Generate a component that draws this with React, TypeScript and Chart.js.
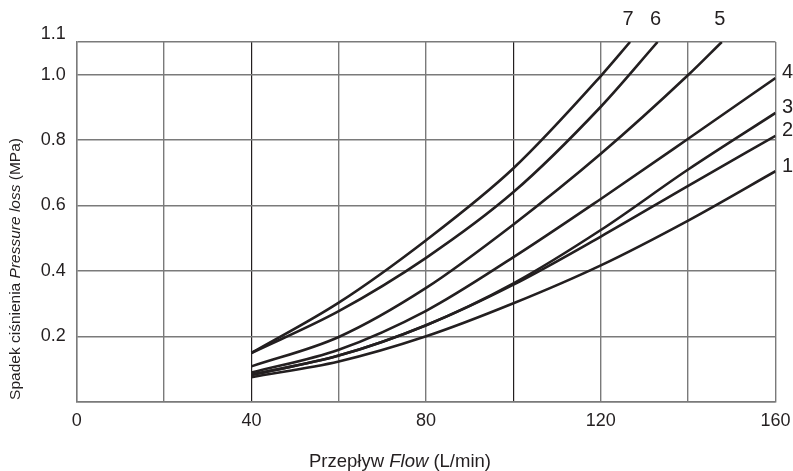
import React, { useEffect, useRef } from "react";
import { Chart, registerables } from "chart.js";

Chart.register(...registerables);

// Flow (L/min) and pressure loss (MPa) for each curve
const curveNames = ["1", "2", "3", "4", "5", "6", "7"];
const flow1 = [40, 60, 80, 100, 120, 140, 160];
const loss1 = [0.075, 0.123, 0.2, 0.301, 0.417, 0.554, 0.705];
const flow2 = [40, 60, 80, 100, 120, 140, 160];
const loss2 = [0.082, 0.141, 0.234, 0.358, 0.505, 0.66, 0.813];
const flow3 = [40, 60, 80, 100, 120, 140, 160];
const loss3 = [0.082, 0.141, 0.234, 0.362, 0.525, 0.71, 0.883];
const flow4 = [40, 60, 80, 100, 120, 140, 160];
const loss4 = [0.089, 0.159, 0.278, 0.442, 0.62, 0.804, 0.99];
const flow5 = [40, 60, 80, 100, 120, 140, 147.7];
const loss5 = [0.108, 0.198, 0.348, 0.542, 0.758, 0.999, 1.1];
const flow6 = [40, 60, 80, 100, 120, 133];
const loss6 = [0.149, 0.277, 0.44, 0.641, 0.902, 1.1];
const flow7 = [40, 60, 80, 100, 120, 126.7];
const loss7 = [0.149, 0.303, 0.494, 0.714, 0.996, 1.1];

const flows = [flow1, flow2, flow3, flow4, flow5, flow6, flow7];
const losses = [loss1, loss2, loss3, loss4, loss5, loss6, loss7];

const xTicks = [0, 20, 40, 60, 80, 100, 120, 140, 160];
const xLabelTicks = [0, 40, 80, 120, 160];
const darkXGrid = [40, 100];
const yTicks = [0, 0.2, 0.4, 0.6, 0.8, 1.0, 1.1];
const yTopLabel = "1.1";

const yTitleParts = [
  { text: "Spadek ciśnienia ", italic: false },
  { text: "Pressure loss", italic: true },
  { text: " (MPa)", italic: false },
];
const xTitleParts = [
  { text: "Przepływ ", italic: false },
  { text: "Flow", italic: true },
  { text: " (L/min)", italic: false },
];

const FONT = '"Liberation Sans", Arial, sans-serif';
const INK = "#231f20";
const GRID = "#7a7a7a";

function drawParts(ctx: CanvasRenderingContext2D, parts: { text: string; italic: boolean }[], size: number) {
  const widths = parts.map((p) => {
    ctx.font = `${p.italic ? "italic " : ""}${size}px ${FONT}`;
    return ctx.measureText(p.text).width;
  });
  const total = widths.reduce((a, b) => a + b, 0);
  let x = -total / 2;
  parts.forEach((p, i) => {
    ctx.font = `${p.italic ? "italic " : ""}${size}px ${FONT}`;
    ctx.fillText(p.text, x, 0);
    x += widths[i];
  });
}

const annotations = {
  id: "annotations",
  afterDraw(chart: any) {
    const ctx = chart.ctx as CanvasRenderingContext2D;
    const area = chart.chartArea;
    const yScale = chart.scales.y;
    ctx.save();
    ctx.fillStyle = INK;
    ctx.textBaseline = "middle";
    ctx.textAlign = "left";

    // Y title (rotated)
    ctx.save();
    ctx.translate(16, 269);
    ctx.rotate(-Math.PI / 2);
    drawParts(ctx, yTitleParts, 15.5);
    ctx.restore();

    // X title
    ctx.save();
    ctx.translate(400, 462);
    drawParts(ctx, xTitleParts, 18.5);
    ctx.restore();

    // top y label
    ctx.font = `18px ${FONT}`;
    ctx.textAlign = "right";
    ctx.fillText(yTopLabel, area.left - 11, yScale.getPixelForValue(1.1) - 8);

    // curve labels
    ctx.font = `20px ${FONT}`;
    ctx.textAlign = "center";
    chart.data.datasets.forEach((ds: any, i: number) => {
      const meta = chart.getDatasetMeta(i);
      const pt = meta.data[meta.data.length - 1];
      const last = ds.data[ds.data.length - 1];
      if (last.y >= 1.1 - 1e-6) {
        ctx.fillText(ds.label, pt.x - 2, pt.y - 23);
      } else {
        ctx.fillText(ds.label, pt.x + 12, pt.y - 5);
      }
    });
    ctx.restore();
  },
};

export default function App() {
  const ref = useRef<HTMLCanvasElement | null>(null);
  useEffect(() => {
    if (!ref.current) return;
    const datasets = curveNames.map((name, i) => ({
      label: name,
      data: flows[i].map((x, j) => ({ x, y: losses[i][j] })),
      borderColor: INK,
      borderWidth: 2.6,
      pointRadius: 0,
      fill: false,
      cubicInterpolationMode: "monotone" as const,
    }));
    const chart = new Chart(ref.current, {
      type: "line",
      data: { datasets },
      plugins: [annotations],
      options: {
        animation: false,
        responsive: false,
        maintainAspectRatio: false,
        layout: { padding: { left: 0, top: 42, right: 17.5, bottom: 0 } },
        plugins: { legend: { display: false }, tooltip: { enabled: false } },
        scales: {
          x: {
            type: "linear",
            min: 0,
            max: 160,
            afterBuildTicks: (scale: any) => {
              scale.ticks = xTicks.map((v) => ({ value: v }));
            },
            afterFit: (scale: any) => {
              scale.height = 69.3;
              scale.paddingLeft = 0;
              scale.paddingRight = 0;
            },
            ticks: {
              padding: 9,
              color: INK,
              font: { family: FONT, size: 18 },
              maxRotation: 0,
              autoSkip: false,
              callback: (v: any) => (xLabelTicks.includes(Number(v)) ? String(v) : ""),
            },
            grid: {
              drawTicks: false,
              color: (c: any) => (darkXGrid.includes(c.tick?.value) ? INK : GRID),
              lineWidth: (c: any) => (darkXGrid.includes(c.tick?.value) ? 1.2 : 1.4),
            },
            border: { color: GRID, width: 1.4 },
          },
          y: {
            type: "linear",
            min: 0,
            max: 1.1,
            afterBuildTicks: (scale: any) => {
              scale.ticks = yTicks.map((v) => ({ value: v }));
            },
            afterFit: (scale: any) => {
              scale.width = 76.7;
              scale.paddingTop = 0;
              scale.paddingBottom = 0;
            },
            ticks: {
              padding: 11,
              color: INK,
              font: { family: FONT, size: 18 },
              autoSkip: false,
              callback: (v: any) => {
                const n = Number(v);
                if (n === 0 || Math.abs(n - 1.1) < 1e-6) return "";
                return n.toFixed(1);
              },
            },
            grid: { drawTicks: false, color: GRID, lineWidth: 1.4 },
            border: { color: GRID, width: 1.4 },
          },
        },
      },
    });
    return () => chart.destroy();
  }, []);
  return (
    <div style={{ position: "fixed", left: 0, top: 0, width: 793, height: 471, background: "#fff" }}>
      <canvas ref={ref} width={793} height={471} style={{ width: 793, height: 471 }} />
    </div>
  );
}
